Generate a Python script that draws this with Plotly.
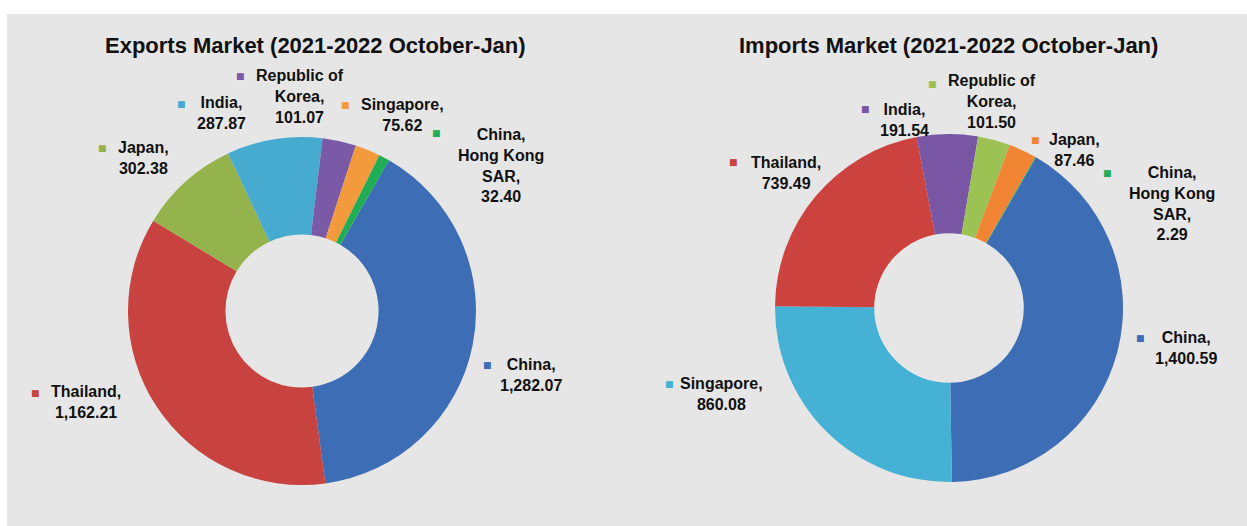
import plotly.graph_objects as go

# ---------------- data ----------------
export_countries = ["China", "Thailand", "Japan", "India", "Republic of Korea",
                    "Singapore", "China, Hong Kong SAR"]
export_values = [1282.07, 1162.21, 302.38, 287.87, 101.07, 75.62, 32.40]

import_countries = ["China", "Singapore", "Thailand", "India", "Republic of Korea",
                    "Japan", "China, Hong Kong SAR"]
import_values = [1400.59, 860.08, 739.49, 191.54, 101.50, 87.46, 2.29]

export_title = "Exports Market (2021-2022 October-Jan)"
import_title = "Imports Market (2021-2022 October-Jan)"

# ---------------- styling ----------------
W, H = 1247, 526
FONT = "Liberation Sans, Arial, sans-serif"

export_colors = ["#3d6db5", "#c8423f", "#95b34c", "#47abcf", "#7a5aa6", "#f39a3c", "#1fae55"]
import_colors = ["#3d6db5", "#45b1d4", "#cc423f", "#7856a4", "#9cc254", "#f18534", "#1fae55"]

# line-broken names used in the data labels
export_label_names = ["China,", "Thailand,", "Japan,", "India,", "Republic of<br>Korea,",
                      "Singapore,", "China,<br>Hong Kong<br>SAR,"]
import_label_names = ["China,", "Singapore,", "Thailand,", "India,", "Republic of<br>Korea,",
                      "Japan,", "China,<br>Hong Kong<br>SAR,"]

# label placement (pixels): text-block centre and marker centre
export_text_pos = [(531, 375), (86, 402), (143, 158), (221, 113), (300, 96), (402, 115), (501, 165)]
export_mark_pos = [(487, 365), (35, 393), (102, 148), (181, 104), (240, 76), (345, 105), (436, 133)]
import_text_pos = [(1186, 348), (721, 394), (786, 173), (904, 120), (992, 101), (1074, 150), (1172, 203)]
import_mark_pos = [(1140, 338), (669, 384), (733, 162), (865, 109), (932, 84), (1035, 140), (1107, 173)]


def px(x, y):
    return x / W, 1 - y / H


def pie_domain(cx, cy, r):
    return dict(x=[(cx - r) / W, (cx + r) / W], y=[1 - (cy + r) / H, 1 - (cy - r) / H])


fig = go.Figure()

fig.add_trace(go.Pie(
    labels=export_countries, values=export_values,
    marker=dict(colors=export_colors, line=dict(width=0)),
    hole=0.44, sort=False, direction="clockwise", rotation=30,
    textinfo="none", hoverinfo="label+value", showlegend=False,
    domain=pie_domain(302, 311, 174),
))
fig.add_trace(go.Pie(
    labels=import_countries, values=import_values,
    marker=dict(colors=import_colors, line=dict(width=0)),
    hole=0.43, sort=False, direction="clockwise", rotation=30,
    textinfo="none", hoverinfo="label+value", showlegend=False,
    domain=pie_domain(949, 308, 174),
))

annotations = []
for title, cx in [(export_title, 315), (import_title, 948)]:
    x, y = px(cx, 46)
    annotations.append(dict(x=x, y=y, xref="paper", yref="paper", showarrow=False,
                            text=f"<b>{title}</b>", font=dict(family=FONT, size=22, color="#111111"),
                            xanchor="center", yanchor="middle"))

for names, values, colors, tpos, mpos in [
    (export_label_names, export_values, export_colors, export_text_pos, export_mark_pos),
    (import_label_names, import_values, import_colors, import_text_pos, import_mark_pos),
]:
    for name, val, col, tp, mp in zip(names, values, colors, tpos, mpos):
        x, y = px(*tp)
        annotations.append(dict(x=x, y=y, xref="paper", yref="paper", showarrow=False,
                                text=f"<b>{name}<br>{val:,.2f}</b>",
                                font=dict(family=FONT, size=16, color="#111111"),
                                align="center", xanchor="center", yanchor="middle"))
        x, y = px(*mp)
        annotations.append(dict(x=x, y=y, xref="paper", yref="paper", showarrow=False,
                                text="■", font=dict(family="DejaVu Sans", size=9, color=col),
                                xanchor="center", yanchor="middle"))

fig.update_layout(
    width=W, height=H,
    margin=dict(l=0, r=0, t=0, b=0),
    paper_bgcolor="#ffffff",
    plot_bgcolor="#ffffff",
    annotations=annotations,
    shapes=[dict(type="rect", xref="paper", yref="paper",
                 x0=7 / W, x1=1, y0=0, y1=1 - 14 / H,
                 fillcolor="#e6e6e6", line=dict(width=0), layer="below")],
)

fig.write_html("out.html", config={"displayModeBar": False},
               post_script="document.body.style.margin='0';document.body.style.overflow='hidden';")
